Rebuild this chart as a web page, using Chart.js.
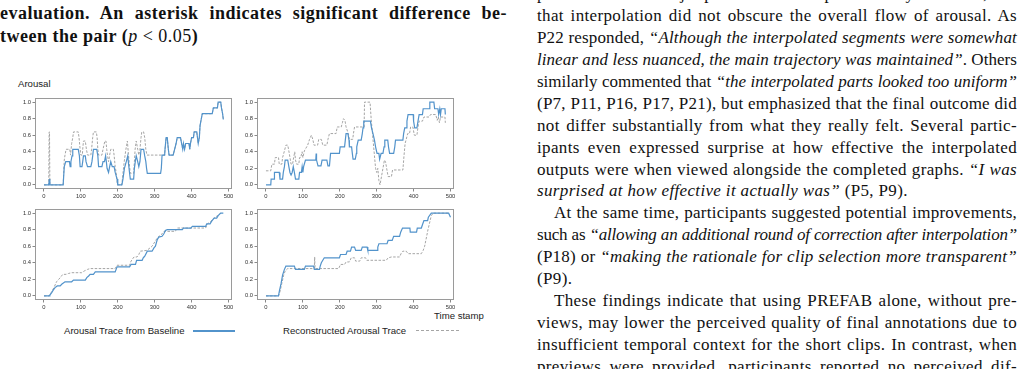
<!DOCTYPE html>
<html><head><meta charset="utf-8">
<script src="https://cdn.jsdelivr.net/npm/chart.js@4.4.0/dist/chart.umd.min.js"></script>
<style>
html,body{margin:0;padding:0;background:#fff;width:1025px;height:369px;overflow:hidden;position:relative;}
canvas{position:absolute;}
.cap{position:absolute;left:0;top:1.5px;width:507px;font:bold 18px 'Liberation Serif',serif;line-height:23px;color:#111;letter-spacing:0.5px;}
.col{position:absolute;left:537px;top:-16.7px;width:480px;font:17px 'Liberation Serif',serif;line-height:21.9px;color:#111;letter-spacing:0.35px;}
.l{text-align:justify;text-align-last:justify;white-space:normal;}
.e{text-align-last:left;}
.in{text-indent:17px;}
.sans{position:absolute;font:9.6px 'Liberation Sans',Arial,sans-serif;line-height:12px;color:#222;white-space:nowrap;}
.nb{font-weight:normal;}
</style></head>
<body>
<div class="cap">
<div class="l">evaluation. An asterisk indicates significant difference be-</div>
<div class="l e">tween the pair (<i class="nb">p</i> <span class="nb">&lt; 0.05</span>)</div>
</div>
<div class="col">
<div class="l">phasized that the major points were well preserved by PREFAB, and</div>
<div class="l">that interpolation did not obscure the overall flow of arousal. As</div>
<div class="l">P22 responded, <i>“Although the interpolated segments were somewhat</i></div>
<div class="l"><i>linear and less nuanced, the main trajectory was maintained”</i>. Others</div>
<div class="l">similarly commented that <i>“the interpolated parts looked too uniform”</i></div>
<div class="l">(P7, P11, P16, P17, P21), but emphasized that the final outcome did</div>
<div class="l">not differ substantially from what they really felt. Several partic-</div>
<div class="l">ipants even expressed surprise at how effective the interpolated</div>
<div class="l">outputs were when viewed alongside the completed graphs. <i>“I was</i></div>
<div class="l e"><i>surprised at how effective it actually was”</i> (P5, P9).</div>
<div class="l in">At the same time, participants suggested potential improvements,</div>
<div class="l">such as <i>“allowing an additional round of correction after interpolation”</i></div>
<div class="l">(P18) or <i>“making the rationale for clip selection more transparent”</i></div>
<div class="l e">(P9).</div>
<div class="l in">These findings indicate that using PREFAB alone, without pre-</div>
<div class="l">views, may lower the perceived quality of final annotations due to</div>
<div class="l">insufficient temporal context for the short clips. In contrast, when</div>
<div class="l">previews were provided, participants reported no perceived dif-</div>
</div>

<div class="sans" style="left:18px;top:78px;">Arousal</div>
<div class="sans" style="left:434px;top:310px;">Time stamp</div>
<div class="sans" style="left:64px;top:325px;">Arousal Trace from Baseline</div>
<div style="position:absolute;left:193px;top:329.5px;width:42px;border-top:2px solid #5293cb;"></div>
<div class="sans" style="left:283px;top:325px;">Reconstructed Arousal Trace</div>
<div style="position:absolute;left:416px;top:330px;width:43px;border-top:1px dashed #a5a5a5;"></div>

<canvas id="c1" width="240" height="115" style="left:0;top:90px;"></canvas>
<canvas id="c2" width="240" height="115" style="left:222px;top:90px;"></canvas>
<canvas id="c3" width="240" height="115" style="left:0;top:201px;"></canvas>
<canvas id="c4" width="240" height="115" style="left:222px;top:201px;"></canvas>

<script>
// keep every justified line on a single line
document.querySelectorAll('.l').forEach(el => {
  const lh = parseFloat(getComputedStyle(el).lineHeight);
  let ls = parseFloat(getComputedStyle(el).letterSpacing) || 0;
  let guard = 0;
  while (el.offsetHeight > lh * 1.5 && guard < 40) { ls -= 0.05; el.style.letterSpacing = ls + 'px'; guard++; }
});

// Tick labels
const xTicks = [0, 100, 200, 300, 400, 500];
const yTicks = [0.0, 0.2, 0.4, 0.6, 0.8, 1.0];

// Panel 1 (top-left)
const base1 = [[0,0],[13,0],[14.5,0.07],[16,0],[52,0],[55,0.22],[59,0.28],[69,0.28],[71,0.22],[73,0.28],[76,0.35],[78,0.43],[93,0.43],[96,0.35],[98,0.22],[103,0.22],[105,0.28],[107,0.35],[112,0.35],[114,0.28],[118,0.22],[127,0.22],[130,0.28],[132,0.35],[134,0.43],[143,0.43],[146,0.35],[148,0.22],[157,0.22],[160,0.28],[164,0.28],[167,0.35],[169,0.28],[171,0.2],[173,0.2],[175,0.15],[178,0.22],[181,0.28],[185,0.22],[190,0.22],[193,0.15],[198,0.07],[200,0],[211,0],[214,0.07],[218,0.2],[223,0.28],[227,0.35],[230,0.22],[232,0.14],[234,0.07],[243,0.07],[245,0.2],[248,0.3],[250,0.35],[254,0.28],[257,0.22],[260,0.28],[263,0.43],[270,0.43],[273,0.35],[276,0.28],[278,0.2],[280,0.14],[316,0.14],[318,0.2],[320,0.36],[327,0.36],[328,0.43],[331,0.57],[334,0.57],[337,0.43],[339,0.36],[350,0.36],[354,0.43],[358,0.5],[361,0.57],[370,0.57],[373,0.5],[376,0.43],[378,0.5],[381,0.43],[384,0.5],[393,0.5],[395,0.43],[397,0.5],[400,0.57],[405,0.57],[407,0.64],[414,0.64],[416,0.57],[418,0.5],[421,0.57],[423,0.72],[426,0.79],[429,0.86],[456,0.86],[459,0.93],[470,0.93],[472,1.0],[479,1.0],[481,0.93],[484,0.86],[486,0.79]];
const recon1 = [[0,0],[13,0],[14,0.64],[15,0.64],[16,0],[52,0],[55,0.3],[57,0.36],[60,0.43],[70,0.43],[72,0.36],[75,0.5],[78,0.57],[80,0.64],[93,0.64],[95,0.57],[98,0.43],[100,0.36],[104,0.36],[105,0.43],[107,0.53],[112,0.53],[115,0.43],[118,0.36],[127,0.36],[129,0.43],[132,0.57],[134,0.64],[142,0.64],[144,0.57],[146,0.43],[148,0.36],[157,0.36],[160,0.43],[165,0.53],[168,0.53],[170,0.43],[172,0.36],[175,0.28],[178,0.36],[181,0.43],[188,0.43],[190,0.36],[193,0.22],[196,0.14],[199,0],[211,0],[214,0.14],[218,0.3],[222,0.43],[226,0.53],[229,0.36],[232,0.22],[234,0.14],[243,0.14],[245,0.28],[247,0.43],[250,0.53],[254,0.43],[257,0.36],[260,0.43],[263,0.57],[265,0.64],[270,0.64],[273,0.57],[276,0.43],[279,0.36],[327,0.36],[328,0.43],[331,0.57],[334,0.57],[337,0.43],[339,0.36],[350,0.36],[354,0.43],[358,0.5],[361,0.57],[370,0.57],[373,0.5],[376,0.43],[378,0.5],[381,0.43],[384,0.5],[393,0.5],[395,0.43],[397,0.5],[400,0.57],[405,0.57],[407,0.64],[414,0.64],[416,0.57],[418,0.5],[421,0.57],[423,0.72],[426,0.79],[429,0.86],[456,0.86],[459,0.93],[470,0.93],[472,1.0],[479,1.0],[481,0.93],[484,0.86],[486,0.79]];

// Panel 2 (top-right)
const base2 = [[0,0],[13,0],[14,0.07],[22,0.07],[23,0.15],[36,0.15],[38,0.07],[45,0.07],[47,0.15],[50,0.22],[52,0.3],[59,0.3],[62,0.22],[65,0.15],[68,0.12],[71,0.15],[74,0.22],[77,0.15],[80,0.07],[89,0.07],[91,0.15],[96,0.15],[98,0.22],[100,0.15],[102,0.22],[107,0.3],[135,0.3],[136,0.38],[137,0.3],[141,0.23],[149,0.23],[152,0.3],[165,0.3],[168,0.23],[172,0.23],[175,0.38],[199,0.38],[201,0.46],[213,0.46],[215,0.54],[217,0.62],[222,0.62],[225,0.54],[226,0.46],[232,0.46],[234,0.38],[236,0.31],[242,0.31],[245,0.38],[246,0.46],[250,0.54],[258,0.54],[261,0.62],[263,0.69],[265,0.77],[283,0.77],[286,0.69],[290,0.62],[294,0.54],[297,0.46],[301,0.38],[306,0.38],[308,0.31],[312,0.38],[317,0.38],[320,0.46],[322,0.54],[330,0.54],[332,0.46],[335,0.38],[346,0.38],[349,0.46],[351,0.54],[371,0.54],[373,0.62],[376,0.69],[380,0.69],[382,0.77],[385,0.85],[399,0.85],[400,0.77],[403,0.69],[409,0.69],[412,0.77],[415,0.85],[424,0.85],[426,0.92],[442,0.92],[444,1.0],[455,1.0],[457,0.92],[466,0.92],[468,0.85],[471,0.92],[473,0.85],[475,0.92],[485,0.92],[486,0.85]];
const recon2 = [[0,0.17],[13,0.17],[16,0.25],[23,0.25],[25,0.33],[34,0.33],[36,0.25],[43,0.25],[45,0.33],[50,0.41],[54,0.48],[59,0.48],[62,0.41],[65,0.33],[68,0.25],[72,0.25],[75,0.33],[78,0.4],[80,0.3],[83,0.25],[89,0.25],[91,0.33],[94,0.33],[98,0.4],[100,0.33],[104,0.41],[113,0.48],[118,0.55],[123,0.6],[127,0.55],[130,0.48],[140,0.48],[143,0.55],[150,0.55],[154,0.48],[165,0.48],[168,0.55],[172,0.62],[190,0.62],[193,0.7],[204,0.7],[207,0.75],[210,0.8],[214,0.78],[217,0.7],[223,0.62],[226,0.55],[235,0.55],[237,0.62],[240,0.7],[266,0.7],[267,1.0],[282,1.0],[285,0.8],[290,0.55],[294,0.35],[297,0.2],[300,0.15],[303,0.2],[306,0.05],[309,0.0],[313,0.1],[317,0.2],[321,0.3],[324,0.28],[327,0.2],[331,0.1],[340,0.1],[343,0.18],[371,0.18],[374,0.35],[377,0.5],[380,0.55],[384,0.62],[389,0.62],[392,0.7],[398,0.7],[402,0.6],[409,0.6],[412,0.7],[415,0.77],[424,0.77],[428,0.82],[442,0.82],[446,0.85],[460,0.85],[464,0.78],[467,0.82],[470,0.75],[473,0.82],[485,0.82],[486,0.75]];

// Panel 3 (bottom-left)
const base3 = [[0,0],[14,0],[16,0.01],[21,0.04],[25,0.07],[30,0.1],[36,0.12],[44,0.12],[48,0.14],[57,0.17],[75,0.17],[80,0.19],[112,0.19],[116,0.22],[121,0.24],[125,0.26],[134,0.26],[139,0.29],[193,0.29],[198,0.35],[232,0.35],[236,0.38],[248,0.38],[251,0.43],[266,0.43],[270,0.47],[272,0.47],[280,0.54],[293,0.54],[298,0.58],[302,0.6],[307,0.68],[311,0.71],[320,0.72],[325,0.75],[329,0.79],[334,0.8],[375,0.8],[378,0.82],[398,0.82],[402,0.84],[438,0.84],[441,0.87],[450,0.87],[454,0.9],[461,0.94],[468,0.94],[472,0.97],[479,1.0],[486,1.0]];
const recon3 = [[0,0],[14,0],[21,0.05],[27,0.1],[34,0.17],[44,0.22],[51,0.26],[60,0.26],[66,0.27],[75,0.28],[102,0.28],[109,0.3],[118,0.32],[125,0.33],[193,0.33],[198,0.37],[232,0.37],[236,0.42],[239,0.44],[244,0.47],[252,0.47],[257,0.5],[261,0.54],[279,0.55],[293,0.6],[307,0.7],[320,0.75],[325,0.78],[356,0.78],[361,0.82],[438,0.82],[443,0.87],[452,0.9],[461,0.94],[470,0.97],[479,1.0]];

// Panel 4 (bottom-right)
const base4 = [[0,0],[34,0],[36,0.05],[41,0.15],[45,0.25],[50,0.32],[54,0.36],[77,0.36],[80,0.32],[104,0.32],[107,0.36],[129,0.36],[131,0.32],[145,0.32],[147,0.36],[150,0.4],[154,0.43],[158,0.46],[199,0.46],[202,0.5],[217,0.5],[220,0.54],[229,0.54],[232,0.59],[240,0.59],[243,0.55],[258,0.55],[261,0.59],[274,0.59],[276,0.55],[301,0.55],[303,0.59],[306,0.63],[328,0.63],[331,0.67],[342,0.67],[346,0.72],[362,0.72],[365,0.77],[370,0.82],[390,0.82],[391,0.77],[408,0.77],[410,0.82],[421,0.82],[424,0.86],[428,0.91],[438,0.91],[440,0.95],[448,1.0],[495,1.0],[500,0.95]];
const recon4 = [[0,0],[34,0],[38,0.05],[43,0.15],[48,0.25],[52,0.3],[59,0.33],[131,0.33],[132,0.47],[133,0.33],[197,0.33],[202,0.38],[213,0.38],[217,0.41],[226,0.41],[231,0.46],[240,0.46],[243,0.42],[254,0.42],[258,0.46],[270,0.46],[273,0.43],[326,0.43],[331,0.46],[340,0.47],[362,0.47],[367,0.52],[371,0.54],[380,0.54],[385,0.51],[421,0.51],[426,0.55],[430,0.6],[439,0.8],[448,0.97],[453,1.0],[496,1.0]];

const BLUE = '#5293cb', GREY = '#a5a5a5';

const framePlugin = {
  id: 'frame',
  afterDatasetsDraw(chart) {
    const a = chart.chartArea, ctx = chart.ctx;
    ctx.save();
    ctx.strokeStyle = '#9a9a9a';
    ctx.lineWidth = 1;
    ctx.strokeRect(Math.round(a.left) + 0.5, Math.round(a.top) + 0.5, Math.round(a.right - a.left) - 1, Math.round(a.bottom - a.top) - 1);
    ctx.restore();
  }
};

function toPts(arr) { return arr.map(p => ({ x: p[0], y: p[1] })); }

const tickFont = { family: "'Liberation Sans', Arial, sans-serif", size: 5.8 };

function panel(id, base, recon) {
  new Chart(document.getElementById(id), {
    type: 'line',
    data: {
      datasets: [
        { data: toPts(base), borderColor: BLUE, borderWidth: 1.2, pointRadius: 0, tension: 0, fill: false },
        { data: toPts(recon), borderColor: GREY, borderWidth: 1, borderDash: [2.5, 1.5], pointRadius: 0, tension: 0, fill: false }
      ]
    },
    options: {
      responsive: false,
      animation: false,
      events: [],
      layout: { padding: { top: 8, right: 8, left: 0, bottom: 0 } },
      plugins: { legend: { display: false }, tooltip: { enabled: false } },
      scales: {
        x: {
          type: 'linear', min: -24.3, max: 509.5,
          afterBuildTicks: s => { s.ticks = xTicks.map(v => ({ value: v })); },
          afterFit: s => { s.height = 16; s.paddingLeft = 0; s.paddingRight = 0; },
          ticks: { font: tickFont, color: '#333', padding: 1.5, maxRotation: 0, autoSkip: false, callback: v => String(v) },
          grid: { drawOnChartArea: false, tickLength: 2.5, color: '#555', lineWidth: 0.7 },
          border: { display: false }
        },
        y: {
          type: 'linear', min: -0.05, max: 1.05,
          afterBuildTicks: s => { s.ticks = yTicks.map(v => ({ value: v })); },
          afterFit: s => { s.width = 35; s.paddingTop = 0; s.paddingBottom = 0; },
          ticks: { font: tickFont, color: '#333', padding: 1.5, autoSkip: false, callback: v => Number(v).toFixed(1) },
          grid: { drawOnChartArea: false, tickLength: 2.5, color: '#555', lineWidth: 0.7 },
          border: { display: false }
        }
      }
    },
    plugins: [framePlugin]
  });
}

panel('c1', base1, recon1);
panel('c2', base2, recon2);
panel('c3', base3, recon3);
panel('c4', base4, recon4);
</script>
</body></html>
